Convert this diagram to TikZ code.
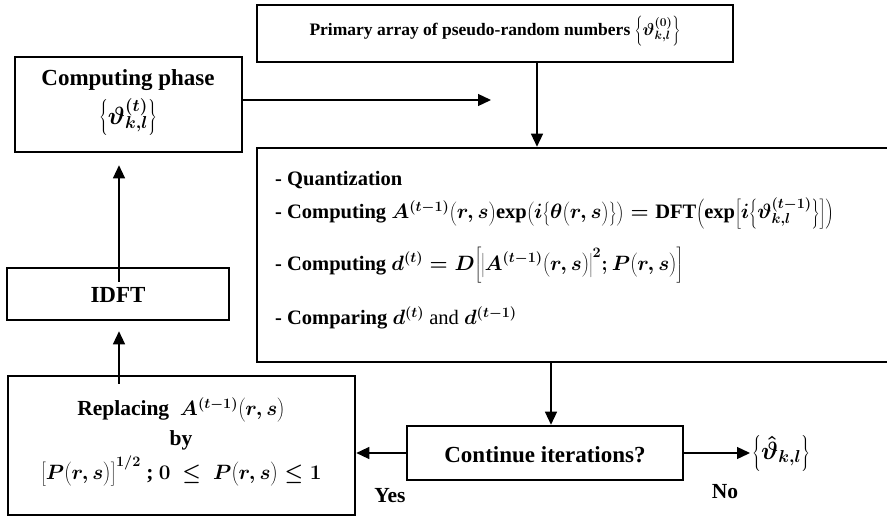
\documentclass[tikz,border=0pt]{standalone}
\usepackage{fontspec}
\setmainfont{Liberation Serif}
\usetikzlibrary{arrows.meta}
\newcommand\rsp{{\left(r,s\vphantom{A^{(t)}}\right)}}
\tikzset{
  box/.style={draw, line width=2.6pt, inner sep=0pt},
  arr/.style={line width=1.3pt, -{Triangle[length=13pt,width=12pt]}},
  fs/.style={font=\fontsize{#1}{#1}\selectfont\bfseries\boldmath, inner sep=0pt},
  lbl/.style={fs=20.5},
  primlbl/.style={fs=17.5},
  big/.style={fs=23},
  mid/.style={fs=21.5},
  cont/.style={fs=23}
}
\begin{document}
\begin{tikzpicture}[x=1pt,y=-1pt]
\useasboundingbox (0,0) rectangle (887,517);
% boxes
\node[box, minimum width=476pt, minimum height=57pt] (prim) at (495,33.5) {};
\node[box, minimum width=227pt, minimum height=95pt] (cp) at (128.5,104.5) {};
\node[box, minimum width=643pt, minimum height=214pt] (bigb) at (578.5,255) {};
\node[box, minimum width=222pt, minimum height=52pt] (idft) at (118,294) {};
\node[box, minimum width=347pt, minimum height=139pt] (repl) at (181.5,445.5) {};
\node[box, minimum width=276pt, minimum height=54pt] (cont) at (545,453) {};
% texts
\node[primlbl] (primt) at (495,31) {Primary array of pseudo-random numbers $\left\{\vartheta^{(0)}_{k,l}\vphantom{A^{(t)}_{k}}\right\}$};
\node[big] (cpt1) at (128,80) {Computing phase};
\node[big] (cpt2) at (128,117) {$\left\{\vartheta^{(t)}_{k,l}\right\}$};
\node[lbl, anchor=west] (q1) at (275,180) {- Quantization};
\node[lbl, anchor=west] (q2) at (275,213) {- Computing $A^{(t-1)}\rsp\textbf{exp}{\left(i{\left\{\theta\rsp\right\}}\right)}=\textbf{DFT}{\left(\textbf{exp}{\left[i{\left\{\vartheta^{(t-1)}_{k,l}\right\}}\right]}\right)}$};
\node[lbl, anchor=west] (q3) at (275,265) {- Computing $d^{(t)}=D{\left[{\left|A^{(t-1)}\rsp\right|}^{2};P\rsp\right]}$};
\node[lbl, anchor=west] (q4) at (275,318) {- Comparing $d^{(t)}$ \textmd{and} $d^{(t-1)}$};
\node[big] (idftt) at (118,295) {IDFT};
\node[mid] (r1) at (181,410) {Replacing \ $A^{(t-1)}\rsp$};
\node[mid] (r2) at (181,440) {by};
\node[mid] (r3) at (181,471) {${\left[P\rsp\right]}^{1/2}$ ; $0\ \le\ P\rsp\le 1$};
\node[cont] (ct) at (545,455) {Continue iterations?};
\node[big, anchor=west, inner sep=2pt] (out) at (750,453) {$\left\{\hat{\vartheta}_{k,l}\vphantom{A^{(t)}}\right\}$};
\node[mid] (yes) at (390,496) {Yes};
\node[mid] (no) at (725,492) {No};
% connectors
\coordinate (hx) at (491,100);
\draw[arr] (cp.east |- hx) -- (hx);
\coordinate (vx) at (537,0);
\draw[arr] (prim.south -| vx) -- (bigb.north -| vx);
\coordinate (vy) at (551,0);
\draw[arr] (bigb.south -| vy) -- (cont.north -| vy);
\draw[arr] (cont.west) -- (repl.east |- cont.west);
\draw[arr] (cont.east) -- (out.west);
\coordinate (ax) at (119,0);
\draw[arr, shorten >=12pt] ([yshift=-15pt]idft.north -| ax) -- (cp.south -| ax);
\draw[arr, shorten >=10pt] ([yshift=-9pt]repl.north -| ax) -- (idft.south -| ax);
\end{tikzpicture}
\end{document}
